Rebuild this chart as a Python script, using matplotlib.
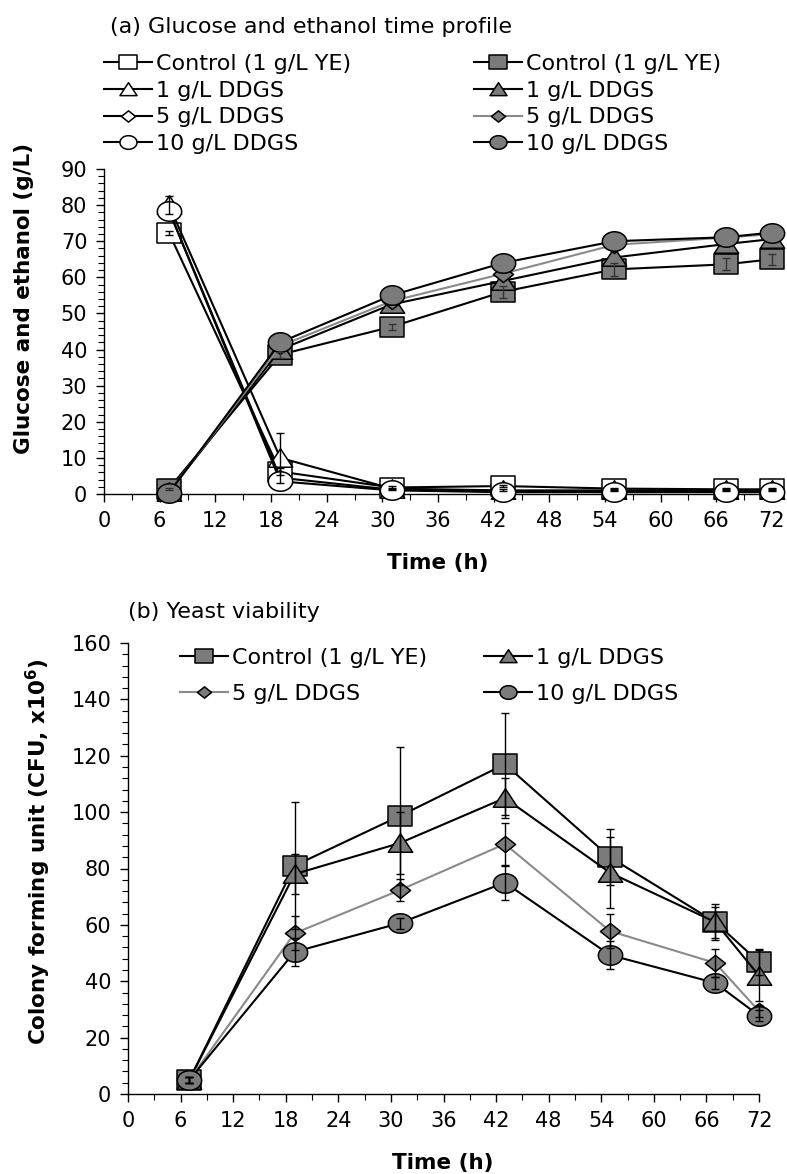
import matplotlib
matplotlib.use("Agg")
import matplotlib.pyplot as plt
from matplotlib.path import Path
from matplotlib.ticker import MultipleLocator
import numpy as np

plt.rcParams['font.family'] = ['DejaVu Sans']
plt.rcParams['mathtext.fontset'] = 'custom'
plt.rcParams['mathtext.bf'] = 'DejaVu Sans:bold'
plt.rcParams['mathtext.rm'] = 'DejaVu Sans'

# ---- data -------------------------------------------------------------
time_h = [7, 19, 31, 43, 55, 67, 72]
x_ticks = [0, 6, 12, 18, 24, 30, 36, 42, 48, 54, 60, 66, 72]

series_names = ["Control (1 g/L YE)", "1 g/L DDGS", "5 g/L DDGS", "10 g/L DDGS"]

# glucose (g/L)
glc_ctrl = [72.3, 6.2, 1.8, 2.2, 1.5, 1.3, 1.3]
glc_1 = [80.0, 10.0, 1.5, 1.0, 1.0, 1.0, 1.0]
glc_5 = [78.5, 4.5, 1.2, 0.8, 0.8, 0.8, 0.8]
glc_10 = [78.5, 3.5, 1.0, 0.5, 0.5, 0.5, 0.5]
glc_ctrl_err = [0.5, 1.0, 0.3, 0.3, 0.3, 0.3, 0.3]
glc_1_err = [2.5, 7.0, 0.3, 0.3, 0.3, 0.3, 0.3]

# ethanol (g/L)
eth_ctrl = [1.5, 38.6, 46.3, 56.0, 62.2, 63.6, 65.0]
eth_1 = [0.5, 40.0, 52.5, 59.0, 65.5, 69.2, 70.6]
eth_5 = [0.5, 41.0, 53.4, 61.0, 69.0, 71.0, 72.0]
eth_10 = [0.3, 42.0, 55.0, 64.0, 70.0, 71.1, 72.4]
eth_ctrl_err = [0.3, 0.8, 0.8, 1.7, 1.7, 1.7, 1.5]

# colony forming units (x10^6)
cfu_ctrl = [5, 81, 98.6, 117, 84, 61, 46.8]
cfu_1 = [5, 78, 89, 105, 78.5, 61, 42]
cfu_5 = [5, 57, 72.3, 88.7, 57.8, 46.5, 29.4]
cfu_10 = [5, 50.4, 60.6, 75, 49.3, 39.4, 27.8]
cfu_ctrl_err = [1, 22.5, 24.5, 18, 10, 5.5, 4.5]
cfu_1_err = [1, 7, 11, 7, 12.5, 6.5, 9]
cfu_5_err = [1, 6, 4, 7.5, 6, 5, 2]
cfu_10_err = [1, 5, 2, 6, 5, 2, 2]

# ---- marker shapes (slightly wide) -------------------------------------
SX = 1.25
def poly(pts):
    pts = list(pts) + [pts[0]]
    codes = [Path.MOVETO] + [Path.LINETO] * (len(pts) - 2) + [Path.CLOSEPOLY]
    return Path(pts, codes)

m_square = poly([(-SX, -1), (SX, -1), (SX, 1), (-SX, 1)])
m_tri = poly([(0, 1), (-SX, -0.9), (SX, -0.9)])
m_diam = poly([(0, 1), (SX, 0), (0, -1), (-SX, 0)])
_th = np.linspace(0, 2 * np.pi, 60, endpoint=False)
m_circ = poly(list(zip(SX * np.cos(_th), np.sin(_th))))

markers = [m_square, m_tri, m_diam, m_circ]
msizes = [17.5, 17.5, 14.5, 17.5]

GRAY = "#7b7b7b"
LINE_GRAY = "#8a8a8a"
LW = 1.5
MEW = 1.1
FS_TICK = 15
FS_TEXT = 16
FS_LABEL = 15.5

fig = plt.figure(figsize=(7.87, 11.74), dpi=100)
W, H = 787.0, 1174.0

def axes_px(left, right, top, bottom):
    return fig.add_axes([left / W, 1 - bottom / H, (right - left) / W, (bottom - top) / H])

def style_axes(ax, ymax, ymajor, yminor):
    for s in ("top", "right"):
        ax.spines[s].set_visible(False)
    for s in ("left", "bottom"):
        ax.spines[s].set_linewidth(1.0)
    ax.set_xlim(0, 72)
    ax.set_ylim(0, ymax)
    ax.set_xticks(x_ticks)
    ax.xaxis.set_minor_locator(MultipleLocator(3))
    ax.yaxis.set_major_locator(MultipleLocator(ymajor))
    ax.yaxis.set_minor_locator(MultipleLocator(yminor))
    ax.tick_params(axis="both", which="major", direction="out", length=6, width=1,
                   labelsize=FS_TICK, pad=6)
    ax.tick_params(axis="both", which="minor", direction="out", length=4, width=0.8)

# ---- panel (a): glucose and ethanol --------------------------------------
ax1 = axes_px(104, 772, 169, 494)
style_axes(ax1, 90, 10, 2)

glc = [glc_ctrl, glc_1, glc_5, glc_10]
eth = [eth_ctrl, eth_1, eth_5, eth_10]
glc_handles, eth_handles = [], []
for i, y in enumerate(glc):
    h, = ax1.plot(time_h, y, color="black", lw=LW, marker=markers[i], ms=msizes[i],
                  mfc="white", mec="black", mew=MEW, clip_on=False, zorder=3)
    glc_handles.append(h)
ax1.errorbar(time_h, glc_ctrl, yerr=glc_ctrl_err, fmt="none", ecolor="black",
             elinewidth=1, capsize=3, capthick=1, zorder=4, clip_on=False)
ax1.errorbar(time_h, glc_1, yerr=glc_1_err, fmt="none", ecolor="black",
             elinewidth=1, capsize=3, capthick=1, zorder=4, clip_on=False)
for i, y in enumerate(eth):
    lc = LINE_GRAY if i == 2 else "black"
    h, = ax1.plot(time_h, y, color=lc, lw=LW, marker=markers[i], ms=msizes[i],
                  mfc=GRAY, mec="black", mew=MEW, clip_on=False, zorder=5)
    eth_handles.append(h)
ax1.errorbar(time_h, eth_ctrl, yerr=eth_ctrl_err, fmt="none", ecolor="#333333",
             elinewidth=1, capsize=3, capthick=1, zorder=6, clip_on=False)

fig.text(24 / W, 1 - 298 / H, "Glucose and ethanol (g/L)", fontsize=FS_LABEL,
         fontweight="bold", rotation=90, ha="center", va="center")
fig.text(438 / W, 1 - 563 / H, "Time (h)", fontsize=FS_LABEL, fontweight="bold",
         ha="center", va="center")
fig.text(110 / W, 1 - 27 / H, "(a) Glucose and ethanol time profile", fontsize=FS_TEXT,
         ha="left", va="center")

leg_kw = dict(loc="upper left", frameon=False, fontsize=FS_TEXT, handlelength=2.15,
              handletextpad=0.18, borderpad=0, borderaxespad=0, markerscale=0.7,
              bbox_transform=fig.transFigure)
fig.legend(glc_handles, series_names, bbox_to_anchor=(104 / W, 1 - 54 / H),
           labelspacing=0.3, **leg_kw)
fig.legend(eth_handles, series_names, bbox_to_anchor=(474 / W, 1 - 54 / H),
           labelspacing=0.3, **leg_kw)

# ---- panel (b): yeast viability --------------------------------------------
ax2 = axes_px(128, 759, 643, 1094)
style_axes(ax2, 160, 20, 4)

cfu = [cfu_ctrl, cfu_1, cfu_5, cfu_10]
cfu_err = [cfu_ctrl_err, cfu_1_err, cfu_5_err, cfu_10_err]
cfu_handles = []
for i in range(4):
    lc = LINE_GRAY if i == 2 else "black"
    h, = ax2.plot(time_h, cfu[i], color=lc, lw=LW, marker=markers[i], ms=msizes[i],
                  mfc=GRAY, mec="black", mew=MEW, clip_on=False, zorder=3 + i)
    cfu_handles.append(h)
for i in range(4):
    ax2.errorbar(time_h, cfu[i], yerr=cfu_err[i], fmt="none", ecolor="black",
                 elinewidth=1, capsize=3, capthick=1, zorder=8, clip_on=False)

fig.text(38 / W, 1 - 852 / H, r"Colony forming unit (CFU, x10$^{\mathbf{6}}$)",
         fontsize=FS_LABEL, fontweight="bold", rotation=90, ha="center", va="center")
fig.text(443 / W, 1 - 1163 / H, "Time (h)", fontsize=FS_LABEL, fontweight="bold",
         ha="center", va="center")
fig.text(128 / W, 1 - 612 / H, "(b) Yeast viability", fontsize=FS_TEXT,
         ha="left", va="center")

fig.legend([cfu_handles[0], cfu_handles[2]], [series_names[0], series_names[2]],
           bbox_to_anchor=(180 / W, 1 - 648 / H), labelspacing=0.73, **leg_kw)
fig.legend([cfu_handles[1], cfu_handles[3]], [series_names[1], series_names[3]],
           bbox_to_anchor=(484 / W, 1 - 648 / H), labelspacing=0.73, **leg_kw)

fig.savefig("out.png", dpi=100)
